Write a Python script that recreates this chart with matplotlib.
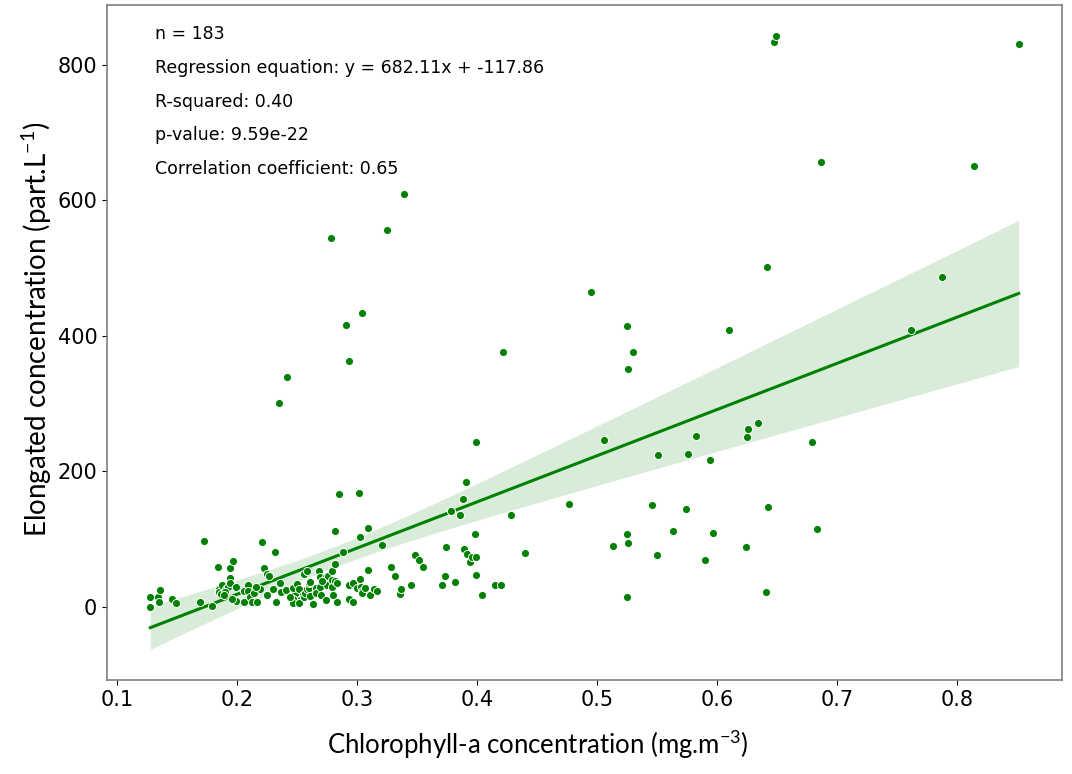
import numpy as np
import matplotlib
matplotlib.use("Agg")
import matplotlib.pyplot as plt

plt.rcParams["mathtext.fontset"] = "custom"
plt.rcParams["mathtext.rm"] = "Lato"

# chlorophyll-a (mg.m-3) and elongated particle concentration (part.L-1)
chl_a = [
    0.128, 0.134, 0.136, 0.135, 0.128, 0.146, 0.149, 0.169, 0.173, 0.179,
    0.184, 0.185, 0.185, 0.187, 0.188, 0.191, 0.193, 0.194, 0.194, 0.194,
    0.197, 0.199, 0.199, 0.196,
    0.206, 0.206, 0.209, 0.209, 0.211, 0.213, 0.214, 0.217, 0.219, 0.221,
    0.223, 0.225, 0.225, 0.227, 0.230, 0.232, 0.233, 0.236, 0.237, 0.241,
    0.248, 0.249, 0.2355, 0.242, 0.247, 0.247, 0.247, 0.250, 0.252,
    0.253, 0.252, 0.255, 0.256, 0.256, 0.258, 0.257, 0.258, 0.260, 0.260,
    0.261, 0.261, 0.263, 0.266, 0.266, 0.268, 0.269, 0.269, 0.270, 0.274,
    0.274, 0.275, 0.276, 0.279, 0.279, 0.279, 0.280, 0.282, 0.282, 0.282,
    0.283, 0.283, 0.285, 0.288, 0.2785, 0.291, 0.293,
    0.293, 0.293, 0.297, 0.297, 0.300, 0.302, 0.3025, 0.3025, 0.303, 0.304,
    0.304, 0.304, 0.307, 0.309, 0.309, 0.311, 0.314, 0.317, 0.321, 0.325,
    0.328, 0.332, 0.336, 0.337, 0.339, 0.345, 0.348, 0.352, 0.355,
    0.371, 0.373, 0.374, 0.378, 0.386, 0.388, 0.391, 0.389, 0.392, 0.394,
    0.396, 0.398, 0.399, 0.399, 0.399, 0.382, 0.404, 0.415, 0.420, 0.4215,
    0.428, 0.440,
    0.477, 0.495, 0.506, 0.513, 0.5245, 0.5245, 0.5245, 0.526, 0.526, 0.530,
    0.546, 0.550, 0.551, 0.563, 0.574, 0.5755, 0.582, 0.5895, 0.594, 0.5965,
    0.610, 0.624, 0.625, 0.626, 0.634, 0.641, 0.6416, 0.642, 0.647, 0.649,
    0.679, 0.683, 0.6865, 0.761, 0.787, 0.8135, 0.851,
    0.190, 0.189, 0.216, 0.244, 0.271,
]
elongated = [
    15, 15, 25, 8, 0, 11, 6, 7, 98, 1,
    59, 26, 22, 19, 32, 26, 29, 42, 35, 57,
    68, 29, 9, 11,
    7, 24, 32, 24, 15, 7, 21, 7, 26, 96,
    57, 49, 17, 46, 27, 81, 8, 36, 22, 25,
    19, 9, 301, 340, 28, 11, 6, 34, 26,
    11, 6, 17, 14, 49, 53, 20, 26, 28, 35,
    37, 16, 4, 28, 21, 53, 44, 29, 17, 44,
    10, 33, 46, 53, 40, 30, 17, 38, 64, 112,
    35, 7, 166, 81, 545, 416, 363,
    33, 11, 36, 7, 28, 168, 103, 41, 29, 23,
    21, 434, 28, 117, 54, 18, 26, 23, 92, 557,
    59, 46, 19, 26, 609, 33, 76, 69, 59,
    33, 46, 89, 142, 135, 160, 185, 85, 78, 66,
    74, 108, 74, 47, 244, 37, 18, 33, 32, 376,
    136, 80,
    152, 465, 247, 90, 415, 107, 14, 351, 94, 376,
    151, 76, 224, 112, 144, 226, 252, 70, 217, 109,
    409, 89, 251, 263, 271, 22, 501, 148, 833, 843,
    244, 115, 657, 409, 487, 651, 831,
    22, 18, 30, 15, 38,
]

slope = 682.11
intercept = -117.86
r_squared = 0.40
p_value = 9.59e-22
corr = 0.65

x = np.array(chl_a)
y = np.array(elongated, dtype=float)
n = len(x)

# fitted line and robust (sandwich) 95% band around it
xs = np.linspace(x.min(), x.max(), 200)
fit = slope * xs + intercept
resid = y - (slope * x + intercept)
X = np.column_stack([np.ones(n), x])
bread = np.linalg.inv(X.T @ X)
lev = np.sum(X @ bread * X, axis=1)
meat = X.T @ (X * (resid ** 2 / (1 - lev) ** 2)[:, None])
cov = bread @ meat @ bread
Xs = np.column_stack([np.ones_like(xs), xs])
se = np.sqrt(np.sum(Xs @ cov * Xs, axis=1))
lower = fit - 1.97 * se
upper = fit + 1.97 * se

fig = plt.figure(figsize=(10.72, 7.74), dpi=100)
ax = fig.add_axes([0.0998, 0.1214, 0.8909, 0.8721])

ax.fill_between(xs, lower, upper, color="green", alpha=0.15, linewidth=0)
ax.plot(xs, fit, color="green", linewidth=2.2)
ax.scatter(x, y, s=34, color="green", edgecolor="white", linewidth=0.7, zorder=3)

ax.set_xticks([0.1, 0.2, 0.3, 0.4, 0.5, 0.6, 0.7, 0.8])
ax.set_yticks([0, 200, 400, 600, 800])
ax.tick_params(labelsize=15)
for s in ax.spines.values():
    s.set_color("#7f7f7f")
    s.set_linewidth(1.2)

ax.set_xlabel(r"Chlorophyll-a concentration (mg.m$^{\mathrm{-3}}$)", fontsize=18.5,
              family="Lato")
ax.set_ylabel(r"Elongated concentration (part.L$^{\mathrm{-1}}$)", fontsize=20,
              family="Lato")
ax.xaxis.set_label_coords(0.451, -0.071)
ax.yaxis.set_label_coords(-0.055, 0.52)

lines = [
    f"n = {n}",
    f"Regression equation: y = {slope:.2f}x + {intercept:.2f}",
    f"R-squared: {r_squared:.2f}",
    f"p-value: {p_value:.2e}",
    f"Correlation coefficient: {corr:.2f}",
]
for i, t in enumerate(lines):
    ax.text(0.05, 0.957 - i * 0.05, t, transform=ax.transAxes,
            fontsize=12.5, va="center", ha="left")

fig.savefig("out.png", dpi=100)
